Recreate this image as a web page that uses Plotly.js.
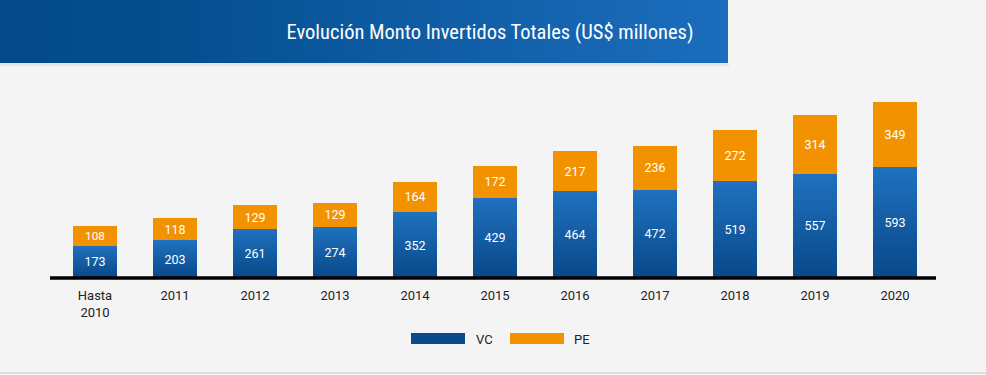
<!DOCTYPE html>
<html><head><meta charset="utf-8">
<script src="https://cdn.plot.ly/plotly-3.0.1.min.js"></script>
<style>html,body{margin:0;padding:0;background:#f4f4f4;}#chart{width:986px;height:375px;}</style>
</head><body><div id="chart"></div>
<script>
const categories = ["Hasta<br>2010","2011","2012","2013","2014","2015","2016","2017","2018","2019","2020"];
const vcValues = [173,203,261,274,352,429,464,472,519,557,593];
const peValues = [108,118,129,129,164,172,217,236,272,314,349];
const seriesNames = ["VC","PE"];

const W=986,H=375,L=55,R=51,T=80,B=97;
const PW=W-L-R, PH=H-T-B;
const px=x=>(x-L)/PW, py=y=>(H-B-y)/PH;

const bannerSvg = '<svg xmlns="http://www.w3.org/2000/svg" width="728" height="63" viewBox="0 0 728 63" preserveAspectRatio="none"><defs><linearGradient id="g" x1="0" y1="0" x2="1" y2="0"><stop offset="0" stop-color="#044a8a"/><stop offset="0.2" stop-color="#044d8d"/><stop offset="1" stop-color="#1b6dbd"/></linearGradient></defs><rect width="728" height="63" fill="url(#g)"/></svg>';

const font="Roboto, 'Liberation Sans', sans-serif";
const traces=[
 {type:'bar',name:seriesNames[0],x:categories,y:vcValues,width:0.55,
  marker:{color:'#135ea6',line:{width:0}},text:vcValues.map(String),textposition:'inside',
  insidetextanchor:'middle',textfont:{color:'#ffffff',size:12.5,family:font},hoverinfo:'skip',showlegend:false},
 {type:'bar',name:seriesNames[1],x:categories,y:peValues,width:0.55,
  marker:{color:'#f39200',line:{width:0}},text:peValues.map(String),textposition:'inside',
  insidetextanchor:'middle',textfont:{color:'#ffffff',size:12.5,family:font},hoverinfo:'skip',showlegend:false}
];
const layout={
 width:W,height:H,barmode:'stack',paper_bgcolor:'#f4f4f4',plot_bgcolor:'#f4f4f4',
 margin:{l:L,r:R,t:T,b:B},showlegend:false,
 font:{family:font,color:'#222'},
 title:{text:'Evolución Monto Invertidos Totales (US$ millones)',font:{family:"'Liberation Sans Narrow', 'Roboto Condensed', Roboto, sans-serif",size:20.5,color:'#ffffff'},
   xref:'container',yref:'container',x:490/W,xanchor:'center',y:1-32/H,yanchor:'middle'},
 xaxis:{type:'category',range:[-0.5,10.5],showgrid:false,zeroline:false,showline:false,ticks:'',
   tickfont:{size:13,color:'#222',family:font},ticklabelstandoff:8,fixedrange:true},
 yaxis:{range:[0,1060],visible:false,fixedrange:true},
 images:[{source:'data:image/svg+xml;charset=utf-8,'+encodeURIComponent(bannerSvg),xref:'paper',yref:'paper',
   x:px(0),y:py(0),sizex:728/PW,sizey:63/PH,xanchor:'left',yanchor:'top',sizing:'stretch',layer:'below'}],
 shapes:[
  {type:'rect',xref:'paper',yref:'paper',x0:px(0),x1:px(729),y0:py(66),y1:py(63),fillcolor:'rgba(0,0,0,0.06)',line:{width:0},layer:'below'},
  {type:'line',xref:'paper',yref:'paper',x0:px(50),x1:px(936),y0:0,y1:0,line:{color:'#000',width:3.5}},
  {type:'rect',xref:'paper',yref:'paper',x0:px(411),x1:px(465),y0:py(344),y1:py(333),fillcolor:'#0a4b8b',line:{width:0}},
  {type:'rect',xref:'paper',yref:'paper',x0:px(510),x1:px(564),y0:py(344),y1:py(333),fillcolor:'#f39200',line:{width:0}},
  {type:'line',xref:'paper',yref:'paper',x0:px(0),x1:px(986),y0:py(373),y1:py(373),line:{color:'#dcdcdc',width:2}}
 ],
 annotations:[
  {xref:'paper',yref:'paper',x:px(474),y:py(339),xanchor:'left',yanchor:'middle',text:seriesNames[0],showarrow:false,font:{size:13,color:'#222',family:font}},
  {xref:'paper',yref:'paper',x:px(572),y:py(339),xanchor:'left',yanchor:'middle',text:seriesNames[1],showarrow:false,font:{size:13,color:'#222',family:font}}
 ]
};
Plotly.newPlot('chart',traces,layout,{displayModeBar:false,staticPlot:true}).then(gd=>{
 const svg=gd.querySelector('.main-svg');
 const defs=svg.querySelector('defs');
 const ns='http://www.w3.org/2000/svg';
 const lg=document.createElementNS(ns,'linearGradient');
 lg.setAttribute('id','vcgrad');lg.setAttribute('x1','0');lg.setAttribute('y1','0');lg.setAttribute('x2','0');lg.setAttribute('y2','1');
 [['0','#2071bf'],['1','#084888']].forEach(s=>{const st=document.createElementNS(ns,'stop');st.setAttribute('offset',s[0]);st.setAttribute('stop-color',s[1]);lg.appendChild(st);});
 defs.appendChild(lg);
 const tr=gd.querySelectorAll('.barlayer .trace')[0];
 tr.querySelectorAll('.point path').forEach(p=>{p.style.fill='url(#vcgrad)';});
});
</script></body></html>
